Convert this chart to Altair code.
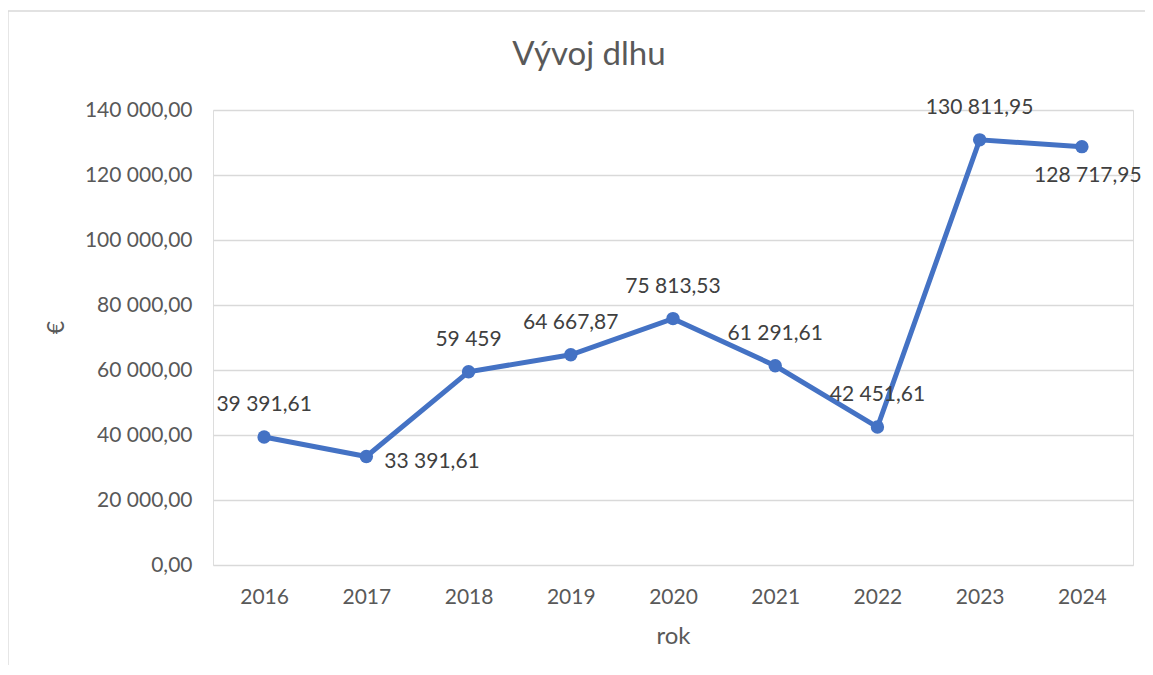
import altair as alt
import pandas as pd

years = ["2016", "2017", "2018", "2019", "2020", "2021", "2022", "2023", "2024"]
debt = [39391.61, 33391.61, 59459, 64667.87, 75813.53, 61291.61, 42451.61, 130811.95, 128717.95]
y_ticks = [0, 20000, 40000, 60000, 80000, 100000, 120000, 140000]

labels_above = ["2016", "2018", "2019", "2020", "2021", "2022", "2023"]
labels_right = ["2017"]
labels_below = ["2024"]


def fmt(v):
    if float(v).is_integer():
        s = f"{int(v):,}"
    else:
        s = f"{v:,.2f}"
    return s.replace(",", " ").replace(".", ",")


df = pd.DataFrame({"rok": years, "dlh": debt, "label": [fmt(v) for v in debt]})

FONT = "Lato"
BLUE = "#4472C4"
AXIS_TEXT = "#595959"
LABEL_TEXT = "#404040"
GRID = "#d9d9d9"

base = alt.Chart(df).encode(
    x=alt.X(
        "rok:O",
        title="rok",
        scale=alt.Scale(type="point", padding=0.5),
        axis=alt.Axis(
            labelAngle=0,
            grid=False,
            domain=False,
            ticks=False,
            tickSize=0,
            labelPadding=38,
            labelBaseline="alphabetic",
            labelFont=FONT,
            labelFontSize=21,
            labelColor=AXIS_TEXT,
            titleFont=FONT,
            titleFontSize=24,
            titleFontWeight="normal",
            titleColor=AXIS_TEXT,
            titleBaseline="alphabetic",
            titleY=78,
        ),
    ),
    y=alt.Y(
        "dlh:Q",
        title="€",
        scale=alt.Scale(domain=[0, 140000]),
        axis=alt.Axis(
            values=y_ticks,
            labelExpr="replace(replace(format(datum.value, ',.2f'), ',', ' '), '.', ',')",
            domain=False,
            ticks=False,
            tickSize=0,
            labelPadding=21,
            gridColor=GRID,
            gridWidth=1.3,
            labelFont=FONT,
            labelFontSize=21,
            labelColor=AXIS_TEXT,
            titleFont=FONT,
            titleFontSize=23,
            titleFontWeight="normal",
            titleColor=AXIS_TEXT,
            titleBaseline="middle",
            titleX=-157,
            titleY=217,
        ),
    ),
)

line = base.mark_line(color=BLUE, strokeWidth=5)
points = base.mark_point(filled=True, size=180, opacity=1, color=BLUE)

text_style = dict(font=FONT, fontSize=21, color=LABEL_TEXT, baseline="middle")

above = base.mark_text(dy=-32, align="center", **text_style).encode(text="label:N").transform_filter(
    alt.FieldOneOfPredicate(field="rok", oneOf=labels_above)
)
right = base.mark_text(dx=18, dy=6, align="left", **text_style).encode(text="label:N").transform_filter(
    alt.FieldOneOfPredicate(field="rok", oneOf=labels_right)
)
below = base.mark_text(dx=6, dy=29, align="center", **text_style).encode(text="label:N").transform_filter(
    alt.FieldOneOfPredicate(field="rok", oneOf=labels_below)
)

frame_df = pd.DataFrame({"f": [0]})
frame_left = alt.Chart(frame_df).mark_rule(color=GRID, strokeWidth=1.3).encode(
    x=alt.value(-205), y=alt.value(-99), y2=alt.value(700)
)
frame_top = alt.Chart(frame_df).mark_rule(color=GRID, strokeWidth=1.3).encode(
    x=alt.value(-205), x2=alt.value(960), y=alt.value(-99)
)

chart = (
    alt.layer(frame_left, frame_top, line, points, above, right, below)
    .properties(
        width=920,
        height=455,
        padding={"left": 205, "top": 102, "right": 12, "bottom": 100},
        autosize=alt.AutoSizeParams(type="none"),
        title=alt.Title(
            "Vývoj dlhu",
            font=FONT,
            fontSize=33,
            fontWeight="normal",
            color=AXIS_TEXT,
            anchor="middle",
            baseline="alphabetic",
            dx=-84,
            offset=0,
            dy=88,
        ),
    )
    .configure_view(stroke=None)
    .configure(background="white")
)

chart.save("out.html", embed_options={"renderer": "svg", "actions": False})
